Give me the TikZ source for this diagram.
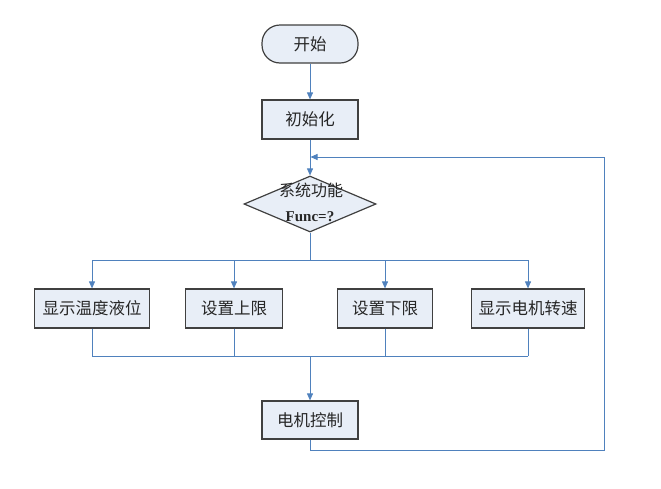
\documentclass[tikz,border=0pt]{standalone}
\usepackage{fontspec}
\setmainfont{Liberation Serif}
\newfontfamily\cjk{Noto Sans CJK SC}
\usetikzlibrary{shapes.geometric,arrows.meta}
\definecolor{boxfill}{HTML}{E8EEF7}
\definecolor{boxdraw}{HTML}{404040}
\definecolor{flow}{HTML}{4F81BD}
\definecolor{txt}{HTML}{262626}
\tikzset{
  base/.style={draw=boxdraw, fill=boxfill, line width=1.2pt, text=txt, font=\cjk\fontsize{16.5}{19}\selectfont, inner sep=0pt},
  procbox/.style={base, rectangle, minimum height=39pt},
  termbox/.style={base, rectangle, rounded corners=18pt, minimum width=96pt, minimum height=38pt},
  decbox/.style={base, diamond, minimum width=132pt, minimum height=56pt, aspect=2.36},
  conn/.style={draw=flow, line width=0.9pt},
  arr/.style={conn, -{Triangle[length=7pt,width=6pt]}, }
}
\begin{document}
\begin{tikzpicture}[x=1pt,y=-1pt]
\useasboundingbox (0,0) rectangle (661,488);
\node[termbox] (start) at (310,44) {开始};
\node[procbox, minimum width=96pt] (init) at (310,119.5) {初始化};
\node[decbox] (dec) at (310,204) {};
\node[text=txt, font=\cjk\fontsize{16}{19}\selectfont, inner sep=0pt] (dectop) at (311,190) {系统功能};
\node[text=txt, font=\bfseries\fontsize{15}{18}\selectfont, inner sep=0pt] (decbot) at (310,217) {Func=?};
\node[procbox, minimum width=115pt] (b1) at (92,308.5) {显示温度液位};
\node[procbox, minimum width=97pt] (b2) at (234,308.5) {设置上限};
\node[procbox, minimum width=95pt] (b3) at (385,308.5) {设置下限};
\node[procbox, minimum width=113pt] (b4) at (528,308.5) {显示电机转速};
\node[procbox, minimum width=96pt, minimum height=38pt] (motor) at (310,420) {电机控制};

\coordinate (split) at (310,260);
\coordinate (s1) at (92,260);
\coordinate (s4) at (528,260);
\coordinate (merge) at (310,356);
\coordinate (m1) at (92,356);
\coordinate (m4) at (528,356);
\coordinate (lb) at (310,450);
\coordinate (lr) at (604,450);
\coordinate (lt) at (604,157);
\coordinate (join) at (310.5,157);

\draw[arr] (start) -- (init);
\draw[arr] (init) -- (dec);
\draw[conn] (dec.south) -- (split);
\draw[conn] (s1) -- (s4);
\draw[arr] (s1) -- (b1);
\draw[arr] (b2 |- split) -- (b2);
\draw[arr] (b3 |- split) -- (b3);
\draw[arr] (s4) -- (b4);
\draw[conn] (b1) -- (m1);
\draw[conn] (b2) -- (b2 |- merge);
\draw[conn] (b3) -- (b3 |- merge);
\draw[conn] (b4) -- (m4);
\draw[conn] (m1) -- (m4);
\draw[arr] (merge) -- (motor);
\draw[arr] (motor.south) -- (lb) -- (lr) -- (lt) -- (join);
\end{tikzpicture}
\end{document}
